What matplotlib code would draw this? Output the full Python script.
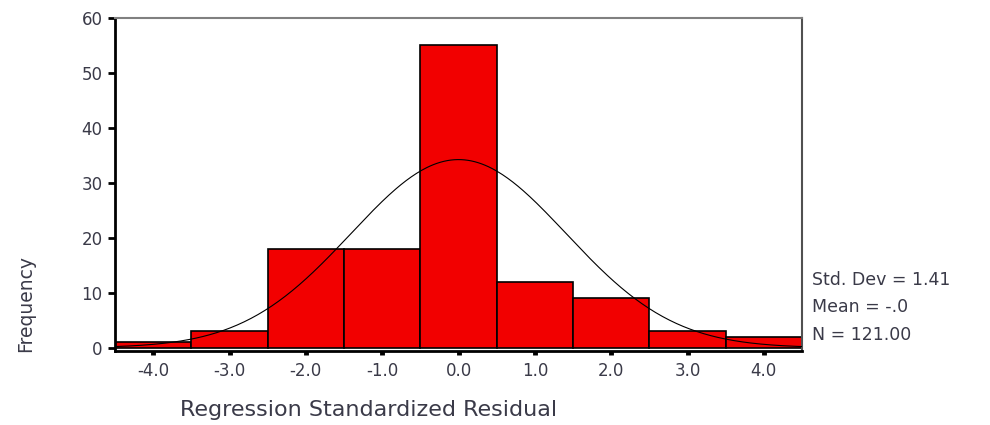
import numpy as np
import matplotlib
matplotlib.use("Agg")
import matplotlib.pyplot as plt

# Histogram of regression standardized residuals (bin width 1)
bin_centers = [-4.0, -3.0, -2.0, -1.0, 0.0, 1.0, 2.0, 3.0, 4.0]
counts = [1, 3, 18, 18, 55, 12, 9, 3, 2]
tick_labels = ["-4.0", "-3.0", "-2.0", "-1.0", "0.0", "1.0", "2.0", "3.0", "4.0"]

std_dev = 1.41
mean = 0.0
n_obs = 121

plt.rcParams["font.family"] = ["DejaVu Sans"]

fig = plt.figure(figsize=(9.9, 4.25), dpi=100)
ax = fig.add_axes([0.1162, 0.1741, 0.6939, 0.7835])

ax.bar(bin_centers, counts, width=1.0, color="#f20000",
       edgecolor="black", linewidth=1.2, zorder=2)

# Normal curve scaled to the histogram
xs = np.linspace(-4.5, 4.5, 400)
pdf = np.exp(-0.5 * ((xs - mean) / std_dev) ** 2) / (std_dev * np.sqrt(2 * np.pi))
ax.plot(xs, n_obs * 1.0 * pdf, color="black", linewidth=0.8, zorder=3)

ax.set_xlim(-4.5, 4.5)
ax.set_ylim(-0.6, 60)
ax.set_xticks(bin_centers)
ax.set_xticklabels(tick_labels)
ax.set_yticks([0, 10, 20, 30, 40, 50, 60])

for side in ("left", "bottom"):
    ax.spines[side].set_color("black")
    ax.spines[side].set_linewidth(2.0)
ax.spines["top"].set_color("#808080")
ax.spines["top"].set_linewidth(1.5)
ax.spines["right"].set_color("#505050")
ax.spines["right"].set_linewidth(1.5)

ax.tick_params(axis="y", direction="out", length=5, width=2, labelsize=12,
               labelcolor="#3a3a48", pad=4)
ax.tick_params(axis="x", direction="out", length=3, width=3.5, labelsize=12,
               labelcolor="#3a3a48", pad=5)

fig.text(0.026, 0.287, "Frequency", rotation=90, ha="center", va="center",
         fontsize=13.5, color="#3a3a48")
fig.text(0.372, 0.035, "Regression Standardized Residual", ha="center",
         va="center", fontsize=16, color="#3a3a48")

stats = [f"Std. Dev = {std_dev:.2f}", "Mean = -.0", f"N = {n_obs:.2f}"]
for i, line in enumerate(stats):
    fig.text(0.82, 1 - (280 + 27.5 * i) / 425, line, ha="left", va="center",
             fontsize=12.5, color="#3a3a48")

fig.savefig("out.png", dpi=100)
